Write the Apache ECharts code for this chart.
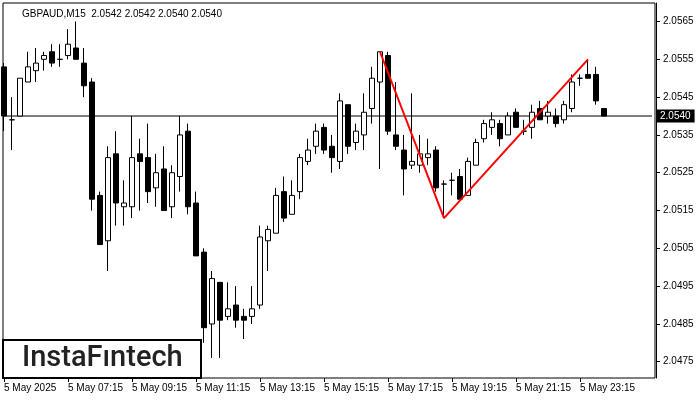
<!DOCTYPE html>
<html>
<head>
<meta charset="utf-8">
<script src="https://cdn.jsdelivr.net/npm/echarts@6/dist/echarts.min.js"></script>
<style>
html,body{margin:0;padding:0;background:#fff;}
#chart{width:700px;height:400px;}
</style>
</head>
<body>
<div id="chart"></div>
<script>
// 15-minute bars, 5 May 2025 05:15 .. 6 May 00:00 (plus empty future slots)
var times = ["05:15","05:30","05:45","06:00","06:15","06:30","06:45","07:00",
"07:15","07:30","07:45","08:00","08:15","08:30","08:45","09:00",
"09:15","09:30","09:45","10:00","10:15","10:30","10:45","11:00",
"11:15","11:30","11:45","12:00","12:15","12:30","12:45","13:00",
"13:15","13:30","13:45","14:00","14:15","14:30","14:45","15:00",
"15:15","15:30","15:45","16:00","16:15","16:30","16:45","17:00",
"17:15","17:30","17:45","18:00","18:15","18:30","18:45","19:00",
"19:15","19:30","19:45","20:00","20:15","20:30","20:45","21:00",
"21:15","21:30","21:45","22:00","22:15","22:30","22:45","23:00",
"23:15","23:30","23:45","00:00","00:15","00:30","00:45","01:00","01:15","01:30"];

var opens = [2.0553,2.0539,2.0540,2.0549,2.0552,2.0555,2.0557,2.0555,2.0556,2.0558,
2.0554,2.0549,2.0519,2.0507,2.0530,2.0516,2.0516,2.0530,2.0529,2.0521,
2.0526,2.0516,2.0524,2.0536,2.0517,2.0504,2.0485,2.0496,2.0487,2.0490,
2.0487,2.0487,2.0490,2.0507,2.0509,2.0520,2.0514,2.0520,2.0528,2.0532,
2.0537,2.0532,2.0528,2.0543,2.0533,2.0535,2.0542,2.0549,2.0556,2.0535,
2.0531,2.0527,2.0527,2.0529,2.0531,2.0522,2.0523,2.0524,2.0519,2.0527,
2.0534,2.0537,2.0538,2.0535,2.0541,2.0536,2.0537,2.0542,2.0540,2.0540,
2.0539,2.0542,2.0550,2.0551,2.0551,2.0542];
var closes = [2.0540,2.0539,2.0550,2.0553,2.0554,2.0556,2.0554,2.0555,2.0559,2.0555,
2.0548,2.0518,2.0506,2.0529,2.0517,2.0517,2.0529,2.0528,2.0520,2.0525,
2.0515,2.0525,2.0535,2.0516,2.0503,2.0484,2.0497,2.0486,2.0489,2.0486,
2.0486,2.0489,2.0508,2.0510,2.0519,2.0513,2.0519,2.0529,2.0531,2.0536,
2.0531,2.0529,2.0544,2.0532,2.0536,2.0541,2.0550,2.0557,2.0536,2.0532,
2.0526,2.0528,2.0530,2.0530,2.0521,2.0522,2.0523,2.0518,2.0528,2.0533,
2.0538,2.0539,2.0534,2.0540,2.0537,2.0536,2.0541,2.0539,2.0541,2.0538,
2.0543,2.0549,2.0550,2.0550,2.0544,2.0540];
var lows = [2.0536,2.0531,2.0540,2.0549,2.0549,2.0552,2.0553,2.0553,2.0555,2.0555,
2.0545,2.0515,2.0506,2.0499,2.0511,2.0511,2.0513,2.0515,2.0517,2.0516,
2.0515,2.0513,2.0520,2.0514,2.0503,2.0480,2.0476,2.0476,2.0486,2.0484,
2.0481,2.0485,2.0489,2.0499,2.0509,2.0512,2.0514,2.0518,2.0527,2.0530,
2.0530,2.0525,2.0526,2.0530,2.0531,2.0531,2.0538,2.0526,2.0535,2.0531,
2.0519,2.0526,2.0525,2.0527,2.0520,2.0513,2.0519,2.0518,2.0519,2.0527,
2.0533,2.0535,2.0532,2.0535,2.0537,2.0535,2.0534,2.0539,2.0538,2.0537,
2.0538,2.0541,2.0548,2.0550,2.0543,2.0540];
var highs = [2.0554,2.0545,2.0550,2.0557,2.0558,2.0557,2.0559,2.0559,2.0563,2.0565,
2.0558,2.0550,2.0520,2.0532,2.0536,2.0523,2.0540,2.0534,2.0538,2.0530,
2.0532,2.0527,2.0540,2.0538,2.0520,2.0505,2.0499,2.0496,2.0496,2.0495,
2.0489,2.0495,2.0511,2.0511,2.0521,2.0524,2.0523,2.0530,2.0534,2.0538,
2.0538,2.0535,2.0546,2.0543,2.0538,2.0546,2.0553,2.0557,2.0557,2.0549,
2.0535,2.0546,2.0535,2.0534,2.0532,2.0523,2.0525,2.0526,2.0529,2.0534,
2.0539,2.0541,2.0539,2.0541,2.0542,2.0539,2.0543,2.0544,2.0544,2.0542,
2.0544,2.0551,2.0551,2.0555,2.0553,2.0542];

// pattern red line vertices
var patternTimes = ["17:00","19:00","23:30"];
var patternValues = [2.0557, 2.0513, 2.0555];

var priceLevel = 2.0540;
var yTicks = [2.0475,2.0485,2.0495,2.0505,2.0515,2.0525,2.0535,2.0545,2.0555,2.0565];
var xTickLabels = {"05:15":"5 May 2025","07:15":"5 May 07:15","09:15":"5 May 09:15",
"11:15":"5 May 11:15","13:15":"5 May 13:15","15:15":"5 May 15:15","17:15":"5 May 17:15",
"19:15":"5 May 19:15","21:15":"5 May 21:15","23:15":"5 May 23:15"};
var titleText = "GBPAUD,M15  2.0542 2.0542 2.0540 2.0540";

var ohlc = opens.map(function(o, i){ return [o, closes[i], lows[i], highs[i]]; });
var pattern = patternTimes.map(function(t, i){ return [t, patternValues[i]]; });
var levelLine = [[times[0], priceLevel], [times[times.length - 1], priceLevel]];

var chart = echarts.init(document.getElementById('chart'), null, {renderer:'canvas'});
var tickIdx = function(index){ return xTickLabels.hasOwnProperty(times[index]); };
var font = "'Liberation Sans', Arial, sans-serif";

chart.setOption({
  animation: false,
  backgroundColor: '#fff',
  title: {
    text: titleText, left: 17, top: 4,
    textStyle: {fontSize: 10, fontWeight: 'normal', color: '#000', fontFamily: font}
  },
  grid: {left: 0, top: 3, width: 656, height: 375},
  xAxis: {
    type: 'category', data: times, boundaryGap: true,
    axisLine: {show: false},
    axisTick: {show: true, alignWithLabel: true, interval: tickIdx, length: 4, lineStyle: {color: '#000'}},
    axisLabel: {
      interval: tickIdx, align: 'left', margin: 5, fontSize: 10, color: '#000', fontFamily: font,
      formatter: function(v){ return xTickLabels[v] || ''; }
    },
    splitLine: {show: false}
  },
  yAxis: {
    type: 'value', position: 'right', min: 2.04707, max: 2.05699, scale: true,
    axisLine: {show: true, lineStyle: {color: '#000'}},
    axisTick: {show: true, customValues: yTicks, length: 4, lineStyle: {color: '#000'}},
    axisLabel: {customValues: yTicks, margin: 7, fontSize: 10, color: '#000', fontFamily: font,
      formatter: function(v){ return v.toFixed(4); }},
    splitLine: {show: false}
  },
  series: [
    {
      type: 'line', data: levelLine, symbol: 'none', silent: true,
      lineStyle: {color: '#000', width: 1}, z: 2,
      endLabel: {show: true, distance: 5, formatter: priceLevel.toFixed(4),
        backgroundColor: '#000', color: '#fff', fontSize: 10, fontFamily: font, padding: [2, 4, 1, 3]}
    },
    {
      type: 'candlestick', data: ohlc, barWidth: 5,
      itemStyle: {color: '#fff', color0: '#000', borderColor: '#000', borderColor0: '#000', borderColorDoji: '#000', borderWidth: 1},
      z: 3
    },
    {
      type: 'line', data: pattern, symbol: 'none',
      lineStyle: {color: '#ff0000', width: 2}, z: 4
    }
  ],
  graphic: [
    {type: 'rect', shape: {x: 3, y: 3, width: 652, height: 375}, style: {fill: null, stroke: '#000', lineWidth: 1}, z: 1, silent: true},
    {type: 'rect', shape: {x: 3, y: 340, width: 198, height: 38}, style: {fill: '#fff', stroke: '#000', lineWidth: 2}, z: 10, silent: true},
    {type: 'text', x: 22, y: 359, style: {text: 'InstaF\u0131ntech', font: '500 29px Roboto, sans-serif', fill: '#222', textVerticalAlign: 'middle'}, z: 11, silent: true}
  ]
});
</script>
</body>
</html>
